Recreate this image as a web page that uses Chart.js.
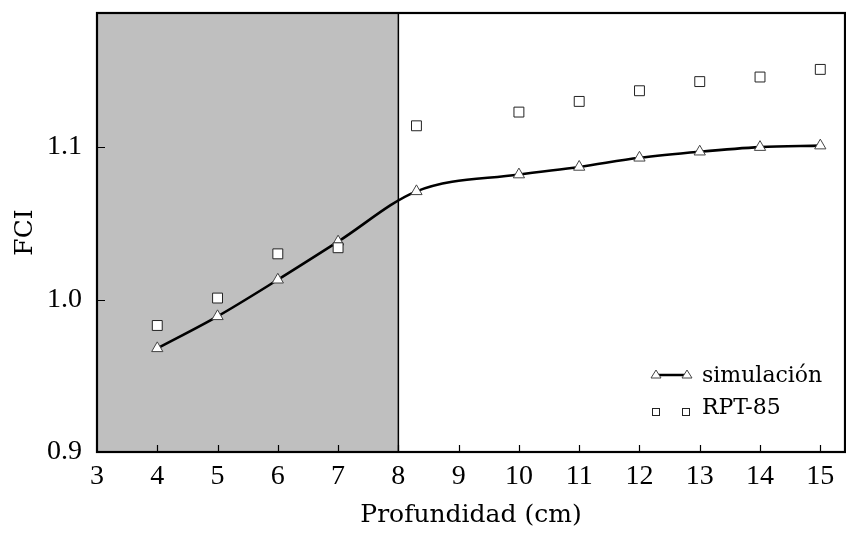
<!DOCTYPE html>
<html>
<head>
<meta charset="utf-8">
<script src="https://cdn.jsdelivr.net/npm/chart.js@4"></script>
<style>
  html, body { margin: 0; padding: 0; background: #fff; }
  #wrap { width: 846px; height: 536px; }
</style>
</head>
<body>
<div id="wrap"><canvas id="fci"></canvas></div>
<script>
// datos
const depth      = [4, 5, 6, 7, 8.3, 10, 11, 12, 13, 14, 15];
const simulacion = [0.968, 0.989, 1.013, 1.038, 1.071, 1.082, 1.087, 1.093, 1.097, 1.100, 1.101];
const rpt85      = [0.983, 1.001, 1.030, 1.034, 1.114, 1.123, 1.130, 1.137, 1.143, 1.146, 1.151];
const xTicks = [3, 4, 5, 6, 7, 8, 9, 10, 11, 12, 13, 14, 15];
const yTicks = [0.9, 1.0, 1.1];
const shadeFrom = 3, shadeTo = 8;

const TICK_FONT  = "'Liberation Serif', serif";
const TITLE_FONT = "'DejaVu Serif', serif";

const toPts = (xs, ys) => xs.map((x, i) => ({ x, y: ys[i] }));

// zona sombreada + marco + ticks hacia dentro + leyenda
const framePlugin = {
  id: "frame",
  beforeDatasetsDraw(chart) {
    const { ctx, chartArea: a, scales: { x } } = chart;
    const x0 = x.getPixelForValue(shadeFrom), x1 = x.getPixelForValue(shadeTo);
    ctx.save();
    ctx.fillStyle = "#bfbfbf";
    ctx.fillRect(x0, a.top, x1 - x0, a.bottom - a.top);
    ctx.strokeStyle = "#000";
    ctx.lineWidth = 1.5;
    ctx.beginPath();
    ctx.moveTo(x1, a.top);
    ctx.lineTo(x1, a.bottom);
    ctx.stroke();
    ctx.restore();
  },
  afterDatasetsDraw(chart) {
    const { ctx, chartArea: a, scales: { x, y } } = chart;
    ctx.save();
    ctx.strokeStyle = "#000";
    ctx.lineWidth = 1.2;
    ctx.beginPath();
    for (const v of xTicks) {
      if (v === x.min) continue;
      const px = Math.round(x.getPixelForValue(v)) + 0.5;
      ctx.moveTo(px, a.bottom);
      ctx.lineTo(px, a.bottom - 7);
    }
    for (const v of yTicks) {
      if (v === y.min) continue;
      const py = Math.round(y.getPixelForValue(v)) + 0.5;
      ctx.moveTo(a.left, py);
      ctx.lineTo(a.left + 8, py);
    }
    ctx.stroke();
    ctx.lineWidth = 2.2;
    ctx.strokeRect(a.left, a.top, a.right - a.left, a.bottom - a.top);
    ctx.restore();
  },
  afterDraw(chart) {
    const { ctx } = chart;
    ctx.save();
    const r1 = 376, r2 = 408;
    ctx.strokeStyle = "#000";
    ctx.lineWidth = 2.5;
    ctx.beginPath();
    ctx.moveTo(656, r1 - 1);
    ctx.lineTo(686, r1 - 1);
    ctx.stroke();
    const tri = (cx, cy) => {
      ctx.beginPath();
      ctx.moveTo(cx, cy - 5);
      ctx.lineTo(cx + 5, cy + 3);
      ctx.lineTo(cx - 5, cy + 3);
      ctx.closePath();
      ctx.fillStyle = "#fff";
      ctx.fill();
      ctx.lineWidth = 1;
      ctx.strokeStyle = "#444";
      ctx.stroke();
    };
    tri(656, r1 - 1);
    tri(687, r1 - 1);
    const sq = (cx, cy) => {
      ctx.fillStyle = "#fff";
      ctx.fillRect(cx - 3.5, cy - 3.5, 7, 7);
      ctx.lineWidth = 1;
      ctx.strokeStyle = "#222";
      ctx.strokeRect(cx - 3.5, cy - 3.5, 7, 7);
    };
    sq(656, r2 + 4);
    sq(686, r2 + 4);
    ctx.font = "22px " + TITLE_FONT;
    ctx.fillStyle = "#000";
    ctx.textBaseline = "middle";
    ctx.fillText("simulación", 702, r1);
    ctx.fillText("RPT-85", 702, r2);
    ctx.restore();
  }
};

new Chart(document.getElementById("fci"), {
  type: "scatter",
  data: {
    datasets: [
      {
        label: "simulación",
        data: toPts(depth, simulacion),
        showLine: true,
        borderColor: "#000",
        borderWidth: 2.6,
        cubicInterpolationMode: "monotone",
        pointStyle: "triangle",
        pointRadius: 6.5,
        pointBackgroundColor: "#fff",
        pointBorderColor: "#444",
        pointBorderWidth: 1,
        order: 2,
      },
      {
        label: "RPT-85",
        data: toPts(depth, rpt85),
        showLine: false,
        pointStyle: "rect",
        pointRadius: 7,
        pointBackgroundColor: "#fff",
        pointBorderColor: "#222",
        pointBorderWidth: 1,
        order: 1,
      },
    ],
  },
  options: {
    responsive: true,
    maintainAspectRatio: false,
    animation: false,
    events: [],
    layout: { autoPadding: false, padding: { top: 13, right: 1, left: 0, bottom: 0 } },
    plugins: { legend: { display: false }, tooltip: { enabled: false } },
    scales: {
      x: {
        type: "linear",
        min: 3,
        max: 15.41,
        grid: { display: false, drawTicks: false },
        border: { display: false },
        afterBuildTicks: s => { s.ticks = xTicks.map(v => ({ value: v })); },
        afterFit: s => { s.height = 84; s.paddingLeft = 0; s.paddingRight = 0; },
        ticks: { color: "#000", padding: 8, font: { family: TICK_FONT, size: 28 }, maxRotation: 0 },
        title: { display: true, text: "Profundidad (cm)", color: "#000", padding: { bottom: 6 }, font: { family: TITLE_FONT, size: 25 } },
      },
      y: {
        min: 0.9,
        max: 1.188,
        grid: { display: false, drawTicks: false },
        border: { display: false },
        afterBuildTicks: s => { s.ticks = yTicks.map(v => ({ value: v })); },
        afterFit: s => { s.width = 97; s.paddingTop = 0; s.paddingBottom = 0; },
        ticks: { color: "#000", padding: 15, font: { family: TICK_FONT, size: 28 }, callback: v => v.toFixed(1) },
        title: { display: true, text: "FCI", color: "#000", padding: { top: 10 }, font: { family: TITLE_FONT, size: 25 } },
      },
    },
  },
  plugins: [framePlugin],
});
</script>
</body>
</html>
